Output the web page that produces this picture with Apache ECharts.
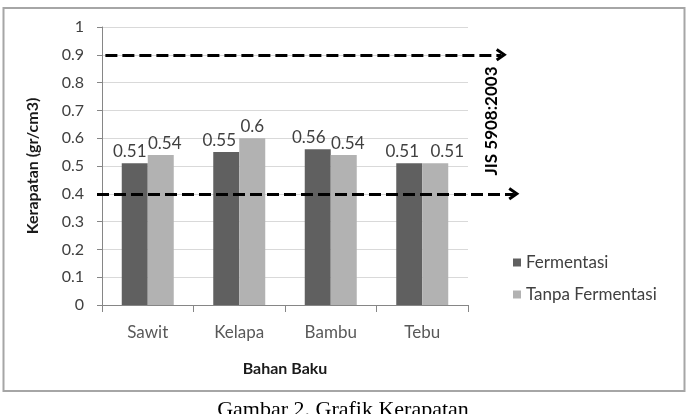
<!DOCTYPE html>
<html>
<head>
<meta charset="utf-8">
<script src="https://cdn.jsdelivr.net/npm/echarts@6/dist/echarts.min.js"></script>
<style>
html,body{margin:0;padding:0;background:#fff;}
#c{width:687px;height:414px;}
</style>
</head>
<body>
<div id="c"></div>
<script>
const categories = ['Sawit', 'Kelapa', 'Bambu', 'Tebu'];
const fermentasi = [0.51, 0.55, 0.56, 0.51];
const tanpaFermentasi = [0.54, 0.60, 0.54, 0.51];
const jisUpper = 0.9;
const jisLower = 0.4;
const seriesNames = ['Fermentasi', 'Tanpa Fermentasi'];

const FONT = 'Lato';
const chevron = 'path://M8,0 L16,11 L13,13 L8,6 L3,13 L0,11 Z';

// horizontal nudges of the value labels (style only), like the source's label layout
const darkLabelShift = [-5, -7, -9, -7];
const lightLabelShift = [4, 0, 4, 12];

function withLabelShift(values, shifts) {
  return values.map((v, i) => ({value: v, label: {offset: [shifts[i], 0]}}));
}

const chart = echarts.init(document.getElementById('c'), null, {renderer: 'canvas'});
chart.setOption({
  backgroundColor: '#ffffff',
  animation: false,
  textStyle: {fontFamily: FONT},
  grid: [
    {left: 102, right: 219, top: 27, bottom: 109},
    {left: 97, right: 171, top: 27, bottom: 109}
  ],
  legend: {
    orient: 'vertical',
    left: 508,
    top: 249,
    itemWidth: 8,
    itemHeight: 8,
    itemGap: 15,
    icon: 'rect',
    textStyle: {fontFamily: FONT, fontSize: 17, color: '#404040'},
    data: seriesNames
  },
  xAxis: [
    {
      type: 'category',
      gridIndex: 0,
      data: categories,
      name: 'Bahan Baku',
      nameLocation: 'middle',
      nameGap: 56,
      nameTextStyle: {fontFamily: FONT, fontSize: 16, fontWeight: 'bold', color: '#1a1a1a'},
      axisLine: {lineStyle: {color: '#868686', width: 1}},
      axisTick: {show: true, length: 7, lineStyle: {color: '#868686'}},
      axisLabel: {fontFamily: FONT, fontSize: 17, color: '#595959', margin: 19}
    },
    {type: 'value', gridIndex: 1, min: 0, max: 1, show: false}
  ],
  yAxis: [
    {
      type: 'value',
      gridIndex: 0,
      min: 0,
      max: 1,
      interval: 0.1,
      name: 'Kerapatan (gr/cm3)',
      nameLocation: 'middle',
      nameGap: 61,
      nameTextStyle: {fontFamily: FONT, fontSize: 16, fontWeight: 'bold', color: '#1a1a1a'},
      axisLine: {show: true, lineStyle: {color: '#868686', width: 1}},
      axisTick: {show: true, length: 5, lineStyle: {color: '#868686'}},
      axisLabel: {fontFamily: FONT, fontSize: 16, color: '#404040', margin: 18},
      splitLine: {show: true, lineStyle: {color: '#d9d9d9', width: 1}}
    },
    {type: 'value', gridIndex: 1, min: 0, max: 1, show: false}
  ],
  series: [
    {
      name: seriesNames[0],
      type: 'bar',
      xAxisIndex: 0, yAxisIndex: 0,
      data: withLabelShift(fermentasi, darkLabelShift),
      barWidth: 26,
      barGap: '0%',
      itemStyle: {color: '#606060'},
      label: {show: true, position: 'top', distance: 3, fontFamily: FONT, fontSize: 17, color: '#404040'}
    },
    {
      name: seriesNames[1],
      type: 'bar',
      xAxisIndex: 0, yAxisIndex: 0,
      data: withLabelShift(tanpaFermentasi, lightLabelShift),
      barWidth: 26,
      barGap: '0%',
      itemStyle: {color: '#b2b2b2'},
      label: {show: true, position: 'top', distance: 3, fontFamily: FONT, fontSize: 17, color: '#404040'}
    },
    {
      name: 'JIS',
      type: 'line',
      xAxisIndex: 1, yAxisIndex: 1,
      data: [],
      z: 10,
      markLine: {
        silent: true,
        z: 10,
        symbol: ['none', chevron],
        symbolSize: [13, 11],
        label: {show: false},
        lineStyle: {color: '#000', width: 3, type: [12, 5]},
        data: [
          [{coord: [0.02, jisUpper]}, {coord: [0.965, jisUpper]}],
          [{coord: [0, jisLower]}, {coord: [0.995, jisLower]}]
        ]
      }
    }
  ],
  graphic: [
    {
      type: 'rect',
      shape: {x: 3.5, y: 8, width: 681, height: 383},
      style: {fill: 'none', stroke: '#a6a6a6', lineWidth: 2},
      z: -1
    },
    {
      type: 'text',
      x: 492, y: 121,
      rotation: Math.PI / 2,
      style: {text: 'JIS 5908:2003', font: 'bold 17px Lato', fill: '#000', align: 'center', verticalAlign: 'middle'}
    },
    {
      type: 'text',
      x: 343, y: 399,
      style: {text: 'Gambar 2. Grafik Kerapatan', font: '22px "Liberation Serif"', fill: '#000', align: 'center', verticalAlign: 'top'}
    }
  ]
});
</script>
</body>
</html>
